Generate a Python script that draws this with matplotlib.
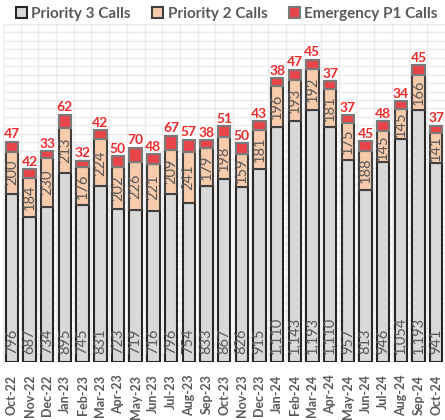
import matplotlib.pyplot as plt
import numpy as np

plt.rcParams["font.family"] = ["Lato", "DejaVu Sans"]

months = ["Oct-22", "Nov-22", "Dec-22", "Jan-23", "Feb-23", "Mar-23", "Apr-23",
          "May-23", "Jun-23", "Jul-23", "Aug-23", "Sep-23", "Oct-23", "Nov-23",
          "Dec-23", "Jan-24", "Feb-24", "Mar-24", "Apr-24", "May-24", "Jun-24",
          "Jul-24", "Aug-24", "Sep-24", "Oct-24"]
priority3 = [796, 687, 734, 895, 745, 831, 723, 719, 716, 796, 754, 833, 867,
             826, 915, 1110, 1143, 1193, 1110, 957, 813, 946, 1054, 1193, 941]
priority2 = [200, 184, 230, 213, 176, 224, 202, 226, 221, 209, 241, 179, 198,
             159, 181, 196, 193, 192, 181, 175, 188, 145, 145, 166, 141]
emergency_p1 = [47, 42, 33, 62, 32, 42, 50, 70, 48, 67, 57, 38, 51,
                50, 43, 38, 47, 45, 37, 37, 45, 48, 34, 45, 37]

p3 = np.array(priority3)
p2 = np.array(priority2)
p1 = np.array(emergency_p1)
x = np.arange(len(months))

text_grey = "#595959"
fig = plt.figure(figsize=(4.45, 4.2), dpi=100)
ax = fig.add_axes([0.007, 0.138, 0.993, 0.805])

w = 0.7
ax.bar(x, p3, w, color="#d9d9d9", edgecolor="#262626", linewidth=1.5,
       label="Priority 3 Calls", zorder=3)
ax.bar(x, p2, w, bottom=p3, color="#f8cbad", edgecolor="#404040", linewidth=1.5,
       label="Priority 2 Calls", zorder=3)
ax.bar(x, p1, w, bottom=p3 + p2, color="#e8444a", edgecolor="#7a7a7a", linewidth=1.5,
       label="Emergency P1 Calls", zorder=3)

for i in x:
    ax.annotate(f"{p3[i]:,}", (i, 0), xytext=(0, 6), textcoords="offset points",
                rotation=90, ha="center", va="bottom", fontsize=10.5,
                color=text_grey, zorder=4)
    ax.text(i, p3[i] + p2[i] / 2, f"{p2[i]:,}", rotation=90, ha="center",
            va="center", fontsize=10.5, color=text_grey, zorder=4)
    ax.annotate(f"{p1[i]}", (i, p3[i] + p2[i] + p1[i]), xytext=(0, 1),
                textcoords="offset points", ha="center", va="bottom",
                fontsize=10, fontweight="bold", color="#ee2b2b", zorder=4)

ax.set_xlim(-0.5, len(months) - 0.5)
ax.set_ylim(0, 1600)
ax.set_yticks(np.arange(0, 1601, 40))
ax.set_xticks(x)
ax.set_xticklabels(months, rotation=90, fontsize=9, fontweight="bold",
                   color=text_grey)
ax.set_xticks(np.arange(-0.5, len(months)), minor=True)
ax.tick_params(axis="x", which="both", length=0, pad=9)
ax.tick_params(axis="y", which="both", length=0, labelleft=False)
ax.grid(axis="y", which="major", color="#ebebeb", linewidth=1, zorder=0)
ax.grid(axis="x", which="minor", color="#ebebeb", linewidth=1, zorder=0)
for side in ax.spines.values():
    side.set_visible(False)

handles, labels = ax.get_legend_handles_labels()
leg = fig.legend(handles, labels, loc="upper center", ncol=3,
                 bbox_to_anchor=(0.51, 1.016), frameon=False,
                 handlelength=0.7, handleheight=0.7, handletextpad=0.3,
                 columnspacing=1.4, prop={"size": 11, "weight": "bold"})
for t in leg.get_texts():
    t.set_color(text_grey)

fig.savefig("out.png", dpi=100)
